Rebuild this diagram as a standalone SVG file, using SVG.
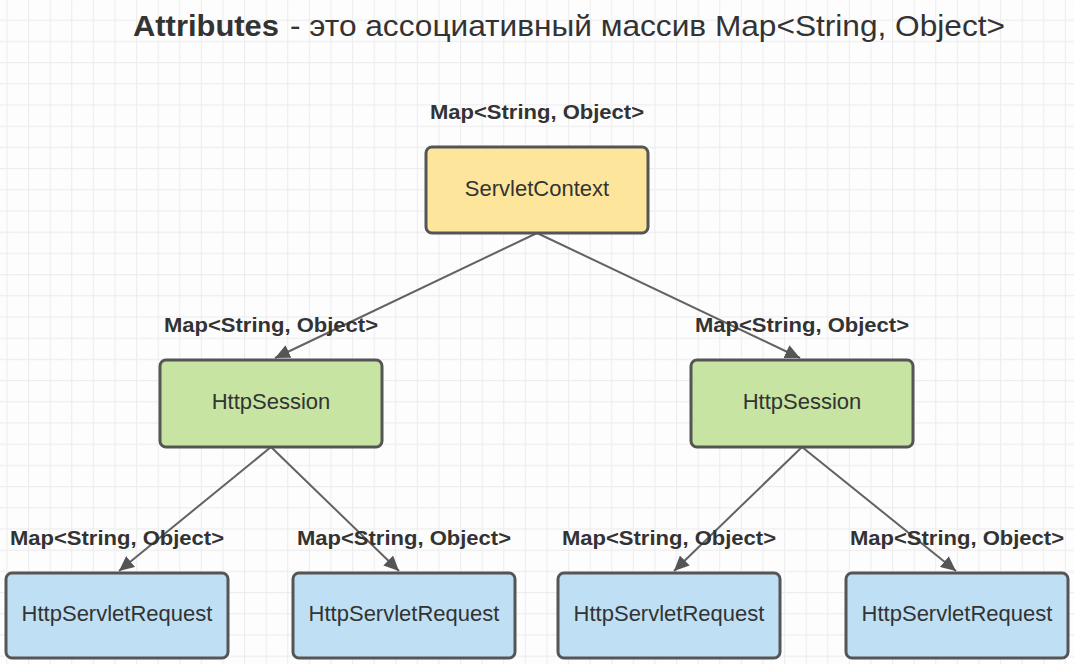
<svg xmlns="http://www.w3.org/2000/svg" width="1074" height="664" viewBox="0 0 1074 664">
<style>
.lbl{font-family:"Liberation Sans",Arial,sans-serif;font-weight:bold;font-size:20px;fill:#333;text-anchor:middle}
.nt{font-family:"Liberation Sans",Arial,sans-serif;font-size:22px;fill:#333;text-anchor:middle}
.box{stroke:#555;stroke-width:3}
.yel{fill:#fde69c}
.grn{fill:#c7e4a3}
.blu{fill:#bfe0f4}
.edge{stroke:#626262;stroke-width:2;fill:none}
</style>
<defs>
<pattern id="grid" patternUnits="userSpaceOnUse" x="6.4" y="19.6" width="21.6" height="21.2">
<path d="M0 0.5H21.6M0.5 0V21.2" stroke="#ededed" stroke-width="1.2" fill="none"/>
</pattern>
<marker id="ah" markerUnits="userSpaceOnUse" markerWidth="16" markerHeight="14" refX="15" refY="7" orient="auto">
<path d="M0 0L15 7L0 14Z" fill="#555"/>
</marker>
</defs>
<rect width="1074" height="664" fill="#fdfdfd"/>
<rect width="1074" height="664" fill="url(#grid)"/>
<g id="title">
<text x="133" y="36" font-family="'Liberation Sans',Arial,sans-serif" font-weight="bold" font-size="30" fill="#333" textLength="146" lengthAdjust="spacingAndGlyphs">Attributes</text>
<text x="290" y="36" font-family="'Liberation Sans',Arial,sans-serif" font-size="30" fill="#333" textLength="715" lengthAdjust="spacingAndGlyphs">- это ассоциативный массив Map&lt;String, Object&gt;</text>
</g>
<g id="connectors">
<line class="edge" x1="537" y1="233" x2="275" y2="358" marker-end="url(#ah)"/>
<line class="edge" x1="537" y1="233" x2="800" y2="358" marker-end="url(#ah)"/>
<line class="edge" x1="271" y1="447" x2="119" y2="571" marker-end="url(#ah)"/>
<line class="edge" x1="271" y1="447" x2="399" y2="571" marker-end="url(#ah)"/>
<line class="edge" x1="802" y1="447" x2="674" y2="571" marker-end="url(#ah)"/>
<line class="edge" x1="802" y1="447" x2="956" y2="571" marker-end="url(#ah)"/>
</g>
<g id="servletContext">
<text class="lbl" x="537" y="119" textLength="214" lengthAdjust="spacingAndGlyphs">Map&lt;String, Object&gt;</text>
<rect class="box yel" x="426" y="147" width="222" height="86" rx="6"/>
<text class="nt" x="537" y="196">ServletContext</text>
</g>
<g id="httpSession1">
<text class="lbl" x="271" y="332" textLength="214" lengthAdjust="spacingAndGlyphs">Map&lt;String, Object&gt;</text>
<rect class="box grn" x="160" y="360" width="222" height="87" rx="6"/>
<text class="nt" x="271" y="409">HttpSession</text>
</g>
<g id="httpSession2">
<text class="lbl" x="802" y="332" textLength="214" lengthAdjust="spacingAndGlyphs">Map&lt;String, Object&gt;</text>
<rect class="box grn" x="691" y="360" width="222" height="87" rx="6"/>
<text class="nt" x="802" y="409">HttpSession</text>
</g>
<g id="request1">
<text class="lbl" x="117" y="545" textLength="214" lengthAdjust="spacingAndGlyphs">Map&lt;String, Object&gt;</text>
<rect class="box blu" x="6" y="573" width="222" height="85" rx="6"/>
<text class="nt" x="117" y="621">HttpServletRequest</text>
</g>
<g id="request2">
<text class="lbl" x="404" y="545" textLength="214" lengthAdjust="spacingAndGlyphs">Map&lt;String, Object&gt;</text>
<rect class="box blu" x="293" y="573" width="222" height="85" rx="6"/>
<text class="nt" x="404" y="621">HttpServletRequest</text>
</g>
<g id="request3">
<text class="lbl" x="669" y="545" textLength="214" lengthAdjust="spacingAndGlyphs">Map&lt;String, Object&gt;</text>
<rect class="box blu" x="558" y="573" width="222" height="85" rx="6"/>
<text class="nt" x="669" y="621">HttpServletRequest</text>
</g>
<g id="request4">
<text class="lbl" x="957" y="545" textLength="214" lengthAdjust="spacingAndGlyphs">Map&lt;String, Object&gt;</text>
<rect class="box blu" x="846" y="573" width="222" height="85" rx="6"/>
<text class="nt" x="957" y="621">HttpServletRequest</text>
</g>
</svg>
